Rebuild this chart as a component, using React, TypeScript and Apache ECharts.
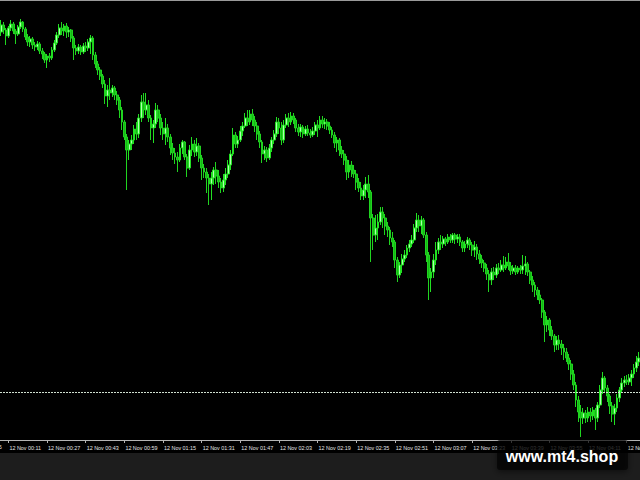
import React, { useEffect, useRef } from "react";
import * as echarts from "echarts";

// 1-minute candles, 12 Nov, first bar at 00:08
const dayLabel = "12 Nov";
const firstBarMinute = 8;
const labelEvery = 16;
const labelOffset = 3; // first labelled bar: 00:11
const offscreenLabel = "11 Nov 23:55";
const refLevel = 48; // dotted horizontal level

// [open, close, low, high]
const candles: number[][] = [
  [408, 415, 404, 420], [415, 410, 406, 418], [410, 404, 395, 412], [404, 412, 402, 414], [412, 416, 409, 420],
  [416, 409, 406, 418], [409, 406, 396, 411], [406, 413, 404, 415], [413, 418, 411, 421], [418, 411, 408, 419],
  [411, 403, 400, 413], [403, 398, 394, 406], [398, 401, 393, 404], [401, 395, 391, 403], [395, 393, 389, 398],
  [393, 396, 390, 399], [396, 389, 386, 398], [389, 386, 381, 392], [386, 380, 377, 388], [380, 384, 372, 386],
  [384, 382, 378, 387], [382, 390, 380, 393], [390, 397, 388, 400], [397, 405, 395, 408], [405, 412, 402, 416],
  [412, 409, 405, 418], [409, 414, 404, 416], [414, 408, 402, 417], [408, 410, 403, 413], [410, 402, 398, 411],
  [402, 392, 380, 404], [392, 389, 385, 395], [389, 393, 386, 396], [393, 388, 385, 395], [388, 394, 386, 397],
  [394, 392, 388, 398], [392, 398, 389, 401], [398, 402, 386, 405], [402, 385, 380, 404], [385, 376, 372, 388],
  [376, 370, 365, 379], [370, 364, 360, 373], [364, 356, 352, 366], [356, 344, 336, 360], [344, 350, 333, 355],
  [350, 347, 340, 362], [347, 352, 343, 355], [352, 345, 340, 354], [345, 340, 335, 349], [340, 330, 322, 343],
  [330, 318, 310, 333], [318, 303, 300, 320], [303, 290, 250, 306], [290, 296, 280, 300], [296, 300, 290, 305],
  [300, 311, 296, 315], [311, 306, 300, 318], [306, 322, 302, 326], [322, 338, 318, 345], [338, 330, 322, 347],
  [330, 335, 325, 347], [335, 322, 318, 340], [322, 312, 300, 325], [312, 316, 297, 320], [316, 330, 312, 337],
  [330, 322, 318, 335], [322, 312, 305, 326], [312, 306, 300, 318], [306, 312, 295, 322], [312, 303, 298, 316],
  [303, 292, 285, 306], [292, 287, 280, 297], [287, 283, 276, 292], [283, 280, 268, 288], [280, 292, 278, 296],
  [292, 298, 286, 300], [298, 283, 280, 299], [283, 272, 263, 286], [272, 290, 270, 295], [290, 296, 284, 303],
  [296, 288, 283, 300], [288, 294, 284, 302], [294, 282, 278, 297], [282, 272, 260, 285], [272, 268, 262, 276],
  [268, 262, 247, 272], [262, 256, 235, 266], [256, 262, 240, 268], [262, 270, 255, 273], [270, 264, 256, 278],
  [264, 258, 252, 270], [258, 252, 247, 262], [252, 260, 248, 266], [260, 266, 255, 272], [266, 275, 262, 280],
  [275, 286, 270, 290], [286, 305, 284, 312], [305, 296, 292, 308], [296, 300, 292, 304], [300, 309, 298, 314],
  [309, 314, 304, 318], [314, 322, 312, 327], [322, 318, 314, 330], [318, 326, 315, 330], [326, 320, 314, 331],
  [320, 314, 308, 324], [314, 306, 300, 318], [306, 298, 292, 309], [298, 286, 277, 300], [286, 290, 280, 294],
  [290, 282, 278, 293], [282, 292, 280, 296], [292, 300, 288, 303], [300, 306, 296, 310], [306, 318, 303, 323],
  [318, 312, 306, 322], [312, 300, 295, 318], [300, 315, 297, 320], [315, 322, 312, 326], [322, 318, 313, 327],
  [318, 324, 315, 328], [324, 320, 316, 327], [320, 312, 308, 322], [312, 308, 304, 316], [308, 313, 303, 316],
  [313, 306, 302, 315], [306, 311, 304, 314], [311, 307, 304, 315], [307, 305, 302, 311], [305, 309, 303, 313],
  [309, 315, 305, 318], [315, 312, 303, 320], [312, 320, 310, 324], [320, 316, 312, 324], [316, 318, 311, 322],
  [318, 314, 310, 321], [314, 310, 306, 318], [310, 305, 302, 313], [305, 297, 292, 308], [297, 300, 288, 303],
  [300, 290, 284, 302], [290, 286, 282, 294], [286, 280, 275, 290], [280, 268, 260, 284], [268, 275, 262, 280],
  [275, 270, 263, 279], [270, 266, 262, 275], [266, 258, 250, 270], [258, 252, 248, 262], [252, 244, 240, 258],
  [244, 250, 240, 255], [250, 256, 242, 263], [256, 248, 242, 265], [248, 222, 178, 250], [222, 205, 190, 226],
  [205, 212, 198, 225], [212, 218, 200, 226], [218, 228, 215, 233], [228, 222, 212, 233], [222, 214, 205, 226],
  [214, 210, 203, 218], [210, 202, 195, 213], [202, 198, 193, 208], [198, 180, 172, 200], [180, 165, 158, 183],
  [165, 175, 162, 178], [175, 181, 167, 186], [181, 185, 178, 190], [185, 192, 182, 195], [192, 196, 188, 200],
  [196, 200, 193, 205], [200, 212, 197, 216], [212, 220, 208, 227], [220, 214, 208, 225], [214, 220, 206, 224],
  [220, 205, 202, 222], [205, 185, 178, 208], [185, 162, 140, 188], [162, 168, 148, 172], [168, 180, 162, 186],
  [180, 190, 175, 198], [190, 198, 186, 202], [198, 196, 190, 205], [196, 201, 192, 204], [201, 198, 194, 203],
  [198, 203, 196, 206], [203, 200, 197, 206], [200, 205, 197, 207], [205, 201, 196, 207], [201, 203, 197, 206],
  [203, 198, 194, 206], [198, 192, 188, 200], [192, 196, 188, 199], [196, 200, 192, 203], [200, 195, 190, 202],
  [195, 190, 184, 198], [190, 193, 183, 199], [193, 186, 180, 196], [186, 181, 176, 190], [181, 177, 172, 185],
  [177, 172, 168, 180], [172, 166, 160, 176], [166, 160, 148, 170], [160, 168, 155, 172], [168, 165, 160, 173],
  [165, 172, 162, 176], [172, 170, 166, 177], [170, 175, 168, 180], [175, 172, 168, 184], [172, 178, 170, 183],
  [178, 174, 170, 187], [174, 169, 165, 178], [169, 172, 166, 175], [172, 168, 165, 175], [168, 172, 166, 174],
  [172, 170, 166, 175], [170, 174, 166, 185], [174, 176, 165, 184], [176, 168, 164, 178], [168, 160, 156, 170],
  [160, 155, 148, 164], [155, 150, 143, 158], [150, 145, 140, 153], [145, 140, 136, 150], [140, 128, 122, 142],
  [128, 115, 98, 130], [115, 120, 108, 124], [120, 110, 104, 122], [110, 104, 100, 114], [104, 95, 88, 106],
  [95, 100, 90, 104], [100, 96, 90, 105], [96, 92, 85, 100], [92, 88, 80, 96], [88, 82, 78, 92],
  [82, 76, 70, 86], [76, 66, 60, 80], [66, 55, 50, 70], [55, 40, 33, 58], [40, 28, 18, 44],
  [28, 22, 3, 35], [22, 27, 16, 32], [27, 22, 17, 30], [22, 28, 18, 33], [28, 24, 18, 32],
  [24, 30, 20, 33], [30, 22, 10, 32], [22, 35, 18, 38], [35, 50, 32, 55], [50, 62, 46, 68],
  [62, 52, 47, 64], [52, 44, 38, 55], [44, 34, 26, 46], [34, 26, 18, 38], [26, 32, 15, 36],
  [32, 42, 28, 46], [42, 50, 38, 53], [50, 57, 47, 62], [57, 60, 53, 64], [60, 58, 55, 65],
  [58, 62, 55, 66], [62, 66, 54, 70], [66, 72, 62, 76], [72, 78, 68, 84], [78, 82, 74, 88],
];

const pad = (n: number) => (n < 10 ? "0" + n : "" + n);
const categories: string[] = candles.map((_, i) => {
  const m = firstBarMinute + i;
  return `${dayLabel} ${pad(Math.floor(m / 60))}:${pad(m % 60)}`;
});

export default function App() {
  const ref = useRef<HTMLDivElement>(null);
  useEffect(() => {
    document.body.style.margin = "0";
    document.body.style.background = "#000";
    if (!ref.current) return;
    const chart = echarts.init(ref.current, null, { renderer: "svg" });
    const showIdx = (i: number) => i % labelEvery === labelOffset;
    chart.setOption({
      animation: false,
      backgroundColor: "#000000",
      grid: {
        left: 0,
        right: 0,
        top: 2,
        bottom: 38,
        containLabel: false,
        outerBoundsMode: "none",
      },
      xAxis: {
        type: "category",
        data: categories,
        boundaryGap: true,
        axisLine: { show: true, lineStyle: { color: "#b4b4b4", width: 1 } },
        axisTick: {
          show: true,
          alignWithLabel: true,
          interval: (i: number) => showIdx(i),
          length: 3,
          lineStyle: { color: "#b4b4b4" },
        },
        axisLabel: {
          interval: (i: number) => showIdx(i),
          align: "left",
          margin: 3,
          color: "#e6e6e6",
          fontSize: 5.4,
          fontFamily: "Liberation Sans, Arial, sans-serif",
          padding: [0, 0, 0, 1],
        },
        splitLine: { show: false },
      },
      yAxis: {
        type: "value",
        min: -2,
        max: 438,
        show: false,
        splitLine: { show: false },
      },
      series: [
        {
          type: "candlestick",
          data: candles,
          barWidth: 2.3,
          itemStyle: {
            color: "#b0ffb0",
            color0: "#14b814",
            borderColor: "#22e022",
            borderColor0: "#20d420",
            borderWidth: 1,
          },
          markLine: {
            silent: true,
            symbol: "none",
            label: { show: false },
            lineStyle: { color: "#d0e0d0", width: 1, type: [2, 1] },
            data: [{ yAxis: refLevel }],
          },
        },
      ],
      graphic: [
        {
          type: "line",
          z: 100,
          shape: { x1: 0, y1: 0.5, x2: 640, y2: 0.5 },
          style: { stroke: "#9a9a9a", lineWidth: 1 },
        },
        {
          type: "rect",
          z: 90,
          shape: { x: 0, y: 453, width: 640, height: 27 },
          style: { fill: "#1d1d1d" },
        },
        {
          type: "text",
          z: 95,
          x: -30,
          y: 447,
          style: {
            text: offscreenLabel,
            fill: "#e6e6e6",
            fontSize: 5.4,
            fontFamily: "Liberation Sans, Arial, sans-serif",
            align: "left",
            verticalAlign: "middle",
          },
        },
        {
          type: "rect",
          z: 100,
          shape: { x: 497, y: 440, width: 131, height: 30, r: 3 },
          style: {
            fill: "rgba(0,0,0,0.62)",
            shadowBlur: 6,
            shadowColor: "rgba(0,0,0,0.8)",
            shadowOffsetY: 2,
          },
        },
        {
          type: "text",
          z: 101,
          x: 562,
          y: 456,
          style: {
            text: "www.mt4.shop",
            fill: "#ffffff",
            fontSize: 16,
            fontWeight: "bold",
            fontFamily: "Liberation Sans, Arial, sans-serif",
            align: "center",
            verticalAlign: "middle",
          },
        },
      ],
    });
    return () => chart.dispose();
  }, []);
  return <div ref={ref} style={{ width: 640, height: 480 }} />;
}
